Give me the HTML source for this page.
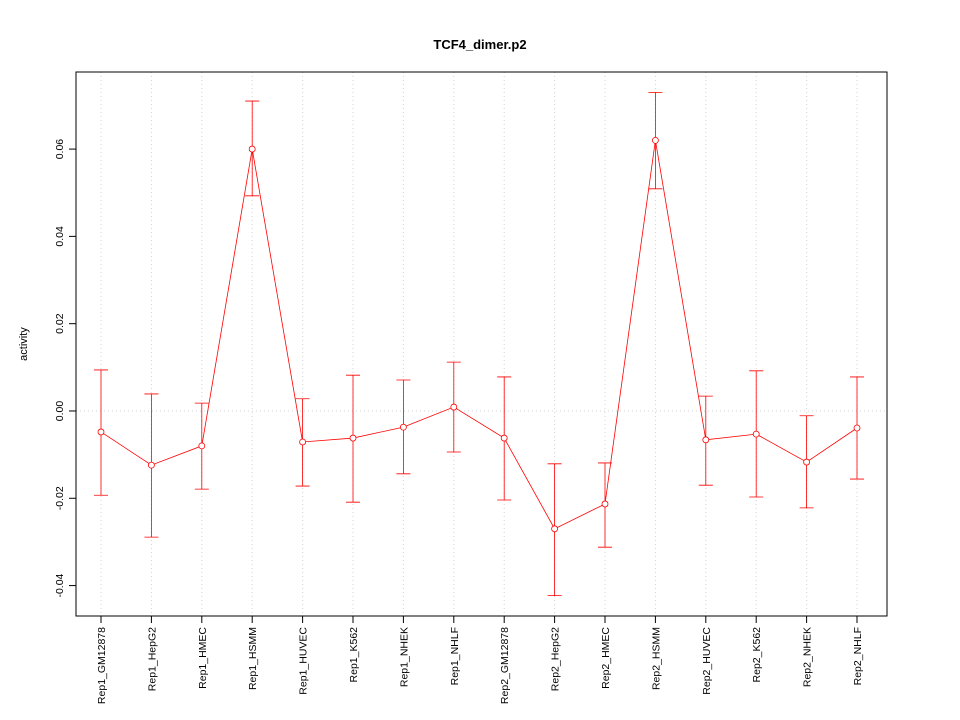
<!DOCTYPE html>
<html><head><meta charset="utf-8"><style>
body{margin:0;background:#fff;}
svg{display:block;font-family:"Liberation Sans",sans-serif;}
</style></head><body>
<svg id="chart" width="960" height="720">
<text x="480" y="49" text-anchor="middle" font-size="13" font-weight="bold">TCF4_dimer.p2</text>
<text transform="translate(27,344) rotate(-90)" text-anchor="middle" font-size="11">activity</text>
<g id="grid"></g><g id="axes"></g><g id="marks"></g>
</svg>
<script>
const categories=["Rep1_GM12878","Rep1_HepG2","Rep1_HMEC","Rep1_HSMM","Rep1_HUVEC","Rep1_K562","Rep1_NHEK","Rep1_NHLF","Rep2_GM12878","Rep2_HepG2","Rep2_HMEC","Rep2_HSMM","Rep2_HUVEC","Rep2_K562","Rep2_NHEK","Rep2_NHLF"];
const values=[-0.0048,-0.0124,-0.008,0.060,-0.0071,-0.0062,-0.0037,0.0009,-0.0062,-0.027,-0.0213,0.062,-0.0066,-0.0053,-0.0117,-0.0039];
const upper=[0.0094,0.0039,0.0018,0.071,0.0028,0.0082,0.0071,0.0112,0.0078,-0.0121,-0.0119,0.073,0.0034,0.0092,-0.0011,0.0078];
const lower=[-0.0193,-0.0289,-0.0179,0.0493,-0.0172,-0.0209,-0.0144,-0.0094,-0.0204,-0.0423,-0.0312,0.0509,-0.017,-0.0197,-0.0222,-0.0156];
const yTicks=[-0.04,-0.02,0,0.02,0.04,0.06];
const yTickLabels=["-0.04","-0.02","0.00","0.02","0.04","0.06"];

const L=76,R=887,T=72,B=616,yMin=-0.04697,yMax=0.07766;
const NS="http://www.w3.org/2000/svg";
function xs(i){return 101+i*(857-101)/(categories.length-1);}
function ys(v){return B-(v-yMin)/(yMax-yMin)*(B-T);}
function mk(parent,tag,attrs){const e=document.createElementNS(NS,tag);for(const k in attrs)e.setAttribute(k,attrs[k]);document.getElementById(parent).appendChild(e);return e;}

categories.forEach((c,i)=>{
  const g=mk('grid','line',{x1:xs(i),x2:xs(i),y1:T,y2:B,stroke:'#d3d3d3','stroke-dasharray':'1,3'});
  
  
  const t=mk('axes','line',{x1:xs(i),x2:xs(i),y1:B,y2:B+7,stroke:'#000'});
  
  
  const lb=mk('axes','text',{transform:`translate(${xs(i)+4},${B+11}) rotate(-90)`,'text-anchor':'end','font-size':'10.5'});
  lb.textContent=c;
  
  
});
const zg=mk('grid','line',{x1:L,x2:R,y1:ys(0),y2:ys(0),stroke:'#d3d3d3','stroke-dasharray':'1,3'});


const box=mk('axes','rect',{x:L,y:T,width:R-L,height:B-T,fill:'none',stroke:'#000'});


yTicks.forEach((v,i)=>{
  const t=mk('axes','line',{x1:L-7,x2:L,y1:ys(v),y2:ys(v),stroke:'#000'});
  
  
  const lb=mk('axes','text',{transform:`translate(${L-13},${ys(v)}) rotate(-90)`,'text-anchor':'middle','font-size':'10.5'});
  lb.textContent=yTickLabels[i];
  
  
});
const line=mk('marks','polyline',{points:values.map((v,i)=>xs(i)+','+ys(v)).join(' '),fill:'none',stroke:'#ff0000','stroke-width':'0.8'});


values.forEach((v,i)=>{
  const x=xs(i);
  const eb=mk('marks','path',{d:`M${x},${ys(upper[i])}V${ys(lower[i])}M${x-7},${ys(upper[i])}H${x+7}M${x-7},${ys(lower[i])}H${x+7}`,stroke:'#ff0000',fill:'none','stroke-width':'0.8'});
  
  
  const p=mk('marks','circle',{cx:x,cy:ys(v),r:3,fill:'#fff',stroke:'#ff0000','stroke-width':'0.8'});
  
  
});
</script>
</body></html>
